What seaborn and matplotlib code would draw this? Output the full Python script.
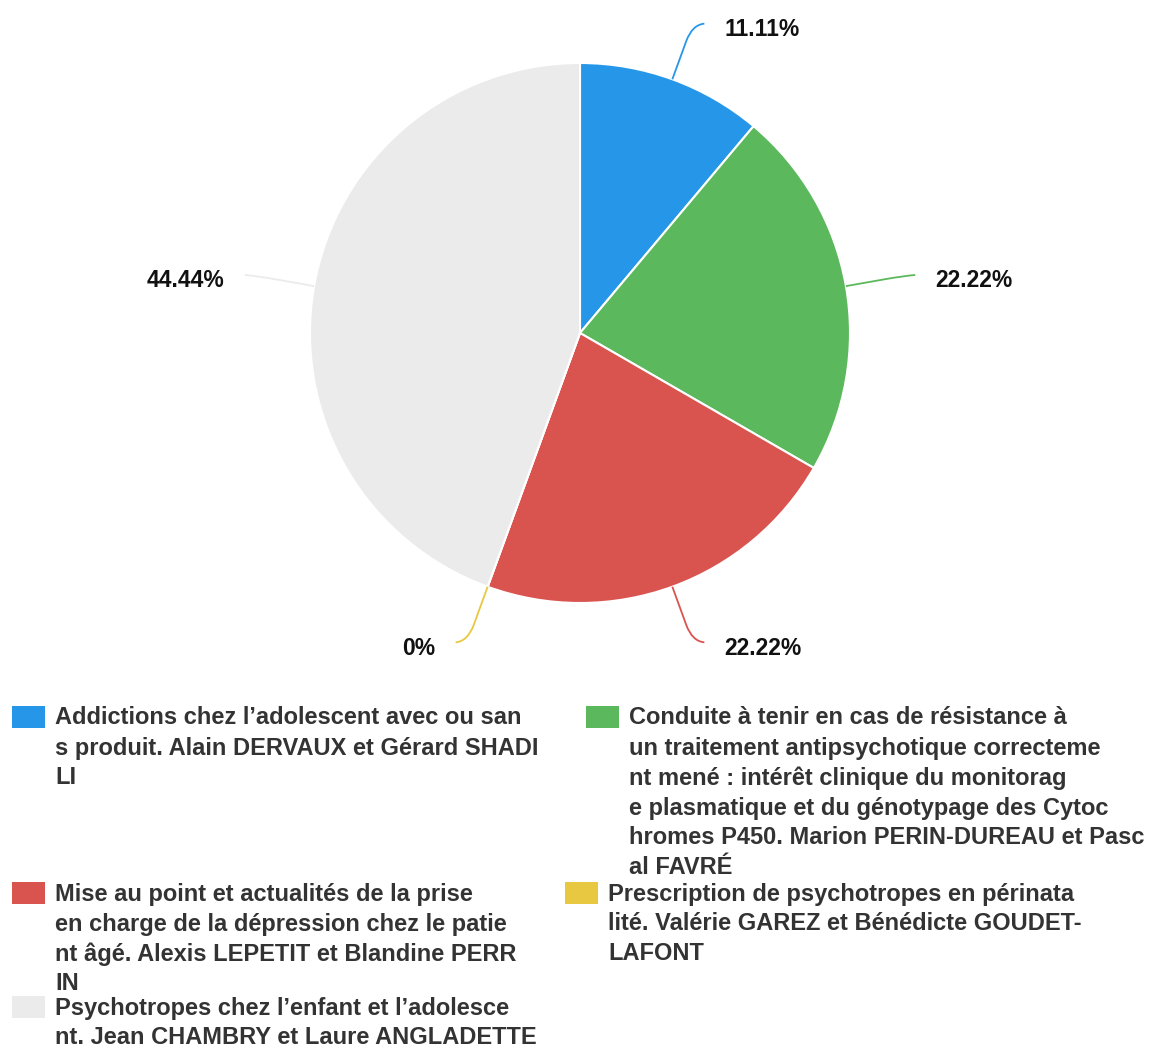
import numpy as np
import matplotlib
matplotlib.use("Agg")
import matplotlib.pyplot as plt
from matplotlib.path import Path
from matplotlib.patches import PathPatch, Rectangle
import seaborn as sns

# ── Data ──────────────────────────────────────────────────────────────────
categories = [
    "Addictions chez l’adolescent avec ou san\ns produit. Alain DERVAUX et Gérard SHADI\nLI",
    "Conduite à tenir en cas de résistance à\nun traitement antipsychotique correcteme\nnt mené : intérêt clinique du monitorag\ne plasmatique et du génotypage des Cytoc\nhromes P450. Marion PERIN-DUREAU et Pasc\nal FAVRÉ",
    "Mise au point et actualités de la prise\nen charge de la dépression chez le patie\nnt âgé. Alexis LEPETIT et Blandine PERR\nIN",
    "Prescription de psychotropes en périnata\nlité. Valérie GAREZ et Bénédicte GOUDET-\nLAFONT",
    "Psychotropes chez l’enfant et l’adolesce\nnt. Jean CHAMBRY et Laure ANGLADETTE",
]
shares = [11.11, 22.22, 22.22, 0, 44.44]
colors = ["#2697E8", "#5CB85C", "#D9534F", "#E8C840", "#EBEBEB"]

W, H = 1154, 1050
CX, CY, R = 580, 333, 270

sns.set_style("white")
plt.rcParams["font.family"] = ["Liberation Sans", "DejaVu Sans"]

fig = plt.figure(figsize=(W / 100, H / 100), dpi=100)

# pie axes covers the top 680 px, data unit = pie radius
top_h = 680
ax = fig.add_axes([0, 1 - top_h / H, 1, top_h / H])
ax.pie(shares, colors=colors, startangle=90, counterclock=False,
       radius=1.0, wedgeprops=dict(edgecolor="white", linewidth=1.5))
ax.set_xlim(-CX / R, (W - CX) / R)
ax.set_ylim((CY - top_h) / R, CY / R)
ax.set_aspect("auto")
ax.axis("off")

# percent labels with curved leader lines
total = sum(shares)
cum = 0.0
for v, col in zip(shares, colors):
    mid = np.deg2rad(90 - 360 * (cum + v / 2) / total)
    cum += v
    c, s = np.cos(mid), np.sin(mid)
    sign = 1 if c >= 0 else -1
    p0 = (c * 1.0, s * 1.0)
    p1 = (c * 1.15, s * 1.15)
    ctrl = (c * 1.215, s * 1.215)
    end = (ctrl[0] + sign * 0.045, ctrl[1] + 0.004 * np.sign(s))
    path = Path([p0, p1, ctrl, end],
                [Path.MOVETO, Path.LINETO, Path.CURVE3, Path.CURVE3])
    ax.add_patch(PathPatch(path, fill=False, edgecolor=col, linewidth=1.3))
    txt = "0%" if v == 0 else f"{v:.2f}%"
    ax.text(end[0] + sign * 0.075, end[1] - 0.022, txt,
            ha="left" if sign > 0 else "right", va="center",
            fontsize=16.5, fontweight="bold", color="#111111")

# ── Legend (row flow, two columns) ────────────────────────────────────────
legend_pos = [(12, 706), (586, 706), (12, 882), (565, 882), (12, 996)]
line_h = 30
for (lx, ly), label, col in zip(legend_pos, categories, colors):
    fig.patches.append(Rectangle((lx / W, 1 - (ly + 22) / H), 33 / W, 22 / H,
                                 transform=fig.transFigure, facecolor=col,
                                 edgecolor="none"))
    for i, line in enumerate(label.split("\n")):
        fig.text((lx + 43) / W, 1 - (ly + 12 + i * line_h) / H, line,
                 ha="left", va="center", fontsize=17, fontweight="bold",
                 color="#333333")

fig.savefig("out.png", dpi=100)
